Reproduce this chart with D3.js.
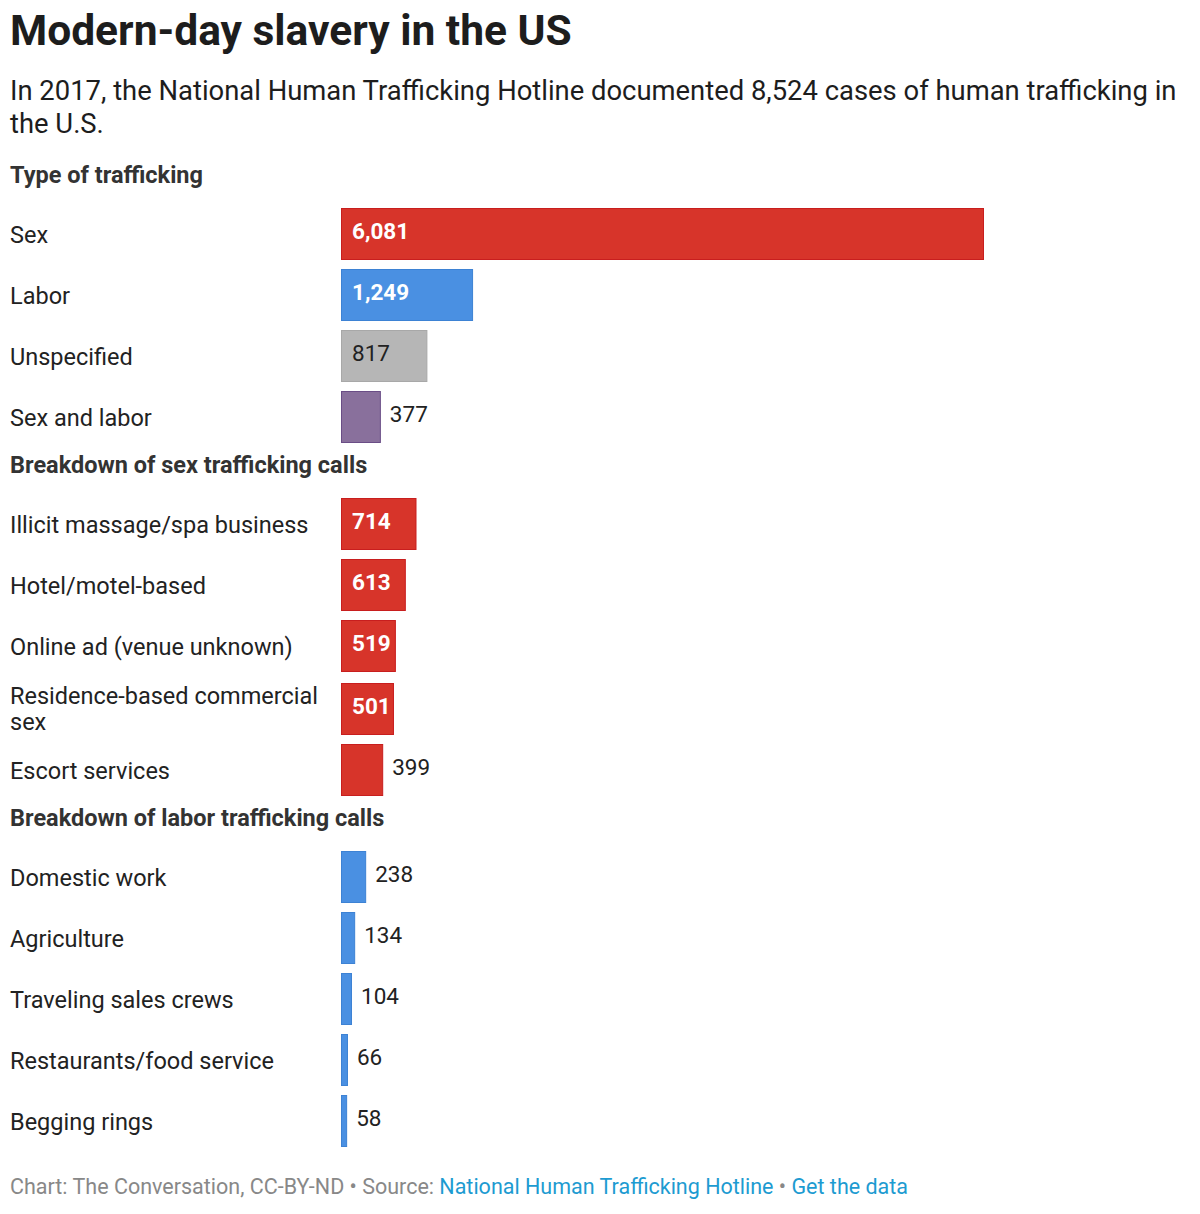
<!DOCTYPE html>
<html>
<head>
<meta charset="utf-8">
<script src="https://cdn.jsdelivr.net/npm/d3@7"></script>
<style>
  body { margin: 0; background: #fff; }
  svg { display: block; font-family: Roboto, "Noto Sans", sans-serif; }
  .title { font-size: 42.5px; font-weight: 700; fill: #1d1d1d; }
  .subtitle { font-size: 27.4px; fill: #1d1d1d; }
  .section { font-size: 23.5px; font-weight: 700; fill: #333; }
  .label { font-size: 23.5px; fill: #222; }
  .value { font-size: 22.5px; fill: #222; }
  .value.inside { fill: #fff; font-weight: 700; }
  .value.inside.light { fill: #222; font-weight: 400; }
  .footer { font-size: 21.5px; fill: #888; }
  .footer .link { fill: #1d9bd1; }
</style>
</head>
<body>
<script>
/* Data */

var TITLE = "Modern-day slavery in the US",
    SUBTITLE = ["In 2017, the National Human Trafficking Hotline documented 8,524 cases of human trafficking in",
                "the U.S."];

var SECTION_TITLES = ["Type of trafficking",
                      "Breakdown of sex trafficking calls",
                      "Breakdown of labor trafficking calls"];

var typeLabels = ["Sex", "Labor", "Unspecified", "Sex and labor"],
    typeValues = [6081, 1249, 817, 377],
    typeColors = ["red", "blue", "grey", "purple"];

var sexLabels = ["Illicit massage/spa business", "Hotel/motel-based", "Online ad (venue unknown)",
                 "Residence-based commercial sex", "Escort services"],
    sexValues = [714, 613, 519, 501, 399];

var laborLabels = ["Domestic work", "Agriculture", "Traveling sales crews",
                   "Restaurants/food service", "Begging rings"],
    laborValues = [238, 134, 104, 66, 58];

var FOOTER = [{text: "Chart: The Conversation, CC-BY-ND • Source: "},
              {text: "National Human Trafficking Hotline", link: true},
              {text: " • "},
              {text: "Get the data", link: true}];

/* Styles */

var COLORS = {red:    {fill: "#d7342a", stroke: "#c81e1e", light: false},
              blue:   {fill: "#4a90e2", stroke: "#3d82d4", light: false},
              grey:   {fill: "#b6b6b6", stroke: "#a8a8a8", light: true},
              purple: {fill: "#89709c", stroke: "#6a4d86", light: false}};

/* Measures */

var W = 1200,
    H = 1214;

var LEFT = 10,
    BAR_X = 341,
    BAR_MAX_W = 643,
    LABEL_MAX_W = 318,
    ROW_H = 61,
    BAR_H = 52,
    LINE_H = 26,
    VALUE_PAD = 11,
    VALUE_OUT = 9;

var sections = [
  {title: SECTION_TITLES[0], labels: typeLabels, values: typeValues, colors: typeColors},
  {title: SECTION_TITLES[1], labels: sexLabels, values: sexValues, colors: sexValues.map(function() { return "red"; })},
  {title: SECTION_TITLES[2], labels: laborLabels, values: laborValues, colors: laborValues.map(function() { return "blue"; })}
];

var svg = d3.select("body").append("svg")
  .attr("width", W)
  .attr("height", H);

svg.append("rect").attr("width", W).attr("height", H).attr("fill", "#fff");

var x = d3.scaleLinear()
  .domain([0, d3.max(typeValues)])
  .range([0, BAR_MAX_W]);

svg.append("text")
  .classed("title", true)
  .attr("x", LEFT)
  .attr("y", 45)
  .text(TITLE);

svg.selectAll("text.subtitle")
  .data(SUBTITLE)
  .enter().append("text")
  .classed("subtitle", true)
  .attr("x", LEFT)
  .attr("y", function(d, i) { return 100 + i * 33; })
  .text(String);

function wrap(textSel, str, maxW) {
  var words = str.split(" "), line = [], lines = [];
  var probe = textSel.append("tspan");
  words.forEach(function(w) {
    line.push(w);
    probe.text(line.join(" "));
    if (probe.node().getComputedTextLength() > maxW && line.length > 1) {
      line.pop();
      lines.push(line.join(" "));
      line = [w];
    }
  });
  lines.push(line.join(" "));
  probe.remove();
  return lines;
}

var cursor = 183; // baseline of first section title

sections.forEach(function(sec, si) {
  if (si > 0) cursor += 30;

  svg.append("text")
    .classed("section", true)
    .attr("x", LEFT)
    .attr("y", cursor)
    .text(sec.title);

  var rowTop = cursor + 25 - (ROW_H - BAR_H);

  sec.labels.forEach(function(lab, i) {
    var g = svg.append("g");
    var label = g.append("text").classed("label", true).attr("x", LEFT);
    var lines = wrap(label, lab, LABEL_MAX_W);
    var rowH = Math.max(ROW_H, lines.length * LINE_H + 11);
    var barTop = rowTop + rowH - BAR_H;
    var cy = barTop + BAR_H / 2;
    var firstBase = cy + 9 - (lines.length - 1) * LINE_H / 2 - (lines.length - 1) * 1.5;

    label.selectAll("tspan")
      .data(lines)
      .enter().append("tspan")
      .attr("x", LEFT)
      .attr("y", function(d, j) { return firstBase + j * LINE_H; })
      .text(String);

    var c = COLORS[sec.colors[i]];
    var bw = x(sec.values[i]);

    g.append("rect")
      .attr("x", BAR_X + 0.5)
      .attr("y", barTop + 0.5)
      .attr("width", bw - 1)
      .attr("height", BAR_H - 1)
      .attr("fill", c.fill)
      .attr("stroke", c.stroke)
      .attr("stroke-width", 1);

    var val = g.append("text")
      .classed("value", true)
      .attr("y", barTop + 31)
      .text(d3.format(",")(sec.values[i]));

    // white label inside the bar when it fits, plain label after it otherwise
    val.classed("inside", true).classed("light", c.light);
    var tw = val.node().getComputedTextLength();
    if (tw + VALUE_PAD + 2 <= bw) {
      val.attr("x", BAR_X + VALUE_PAD);
    } else {
      val.classed("inside", false).classed("light", false)
        .attr("x", BAR_X + bw + VALUE_OUT);
    }

    rowTop += rowH;
  });

  cursor = rowTop; // bottom of last bar
});

svg.append("text")
  .classed("footer", true)
  .attr("x", LEFT)
  .attr("y", cursor + 47)
  .selectAll("tspan")
  .data(FOOTER)
  .enter().append("tspan")
  .classed("link", function(d) { return !!d.link; })
  .text(function(d) { return d.text; });
</script>
</body>
</html>
